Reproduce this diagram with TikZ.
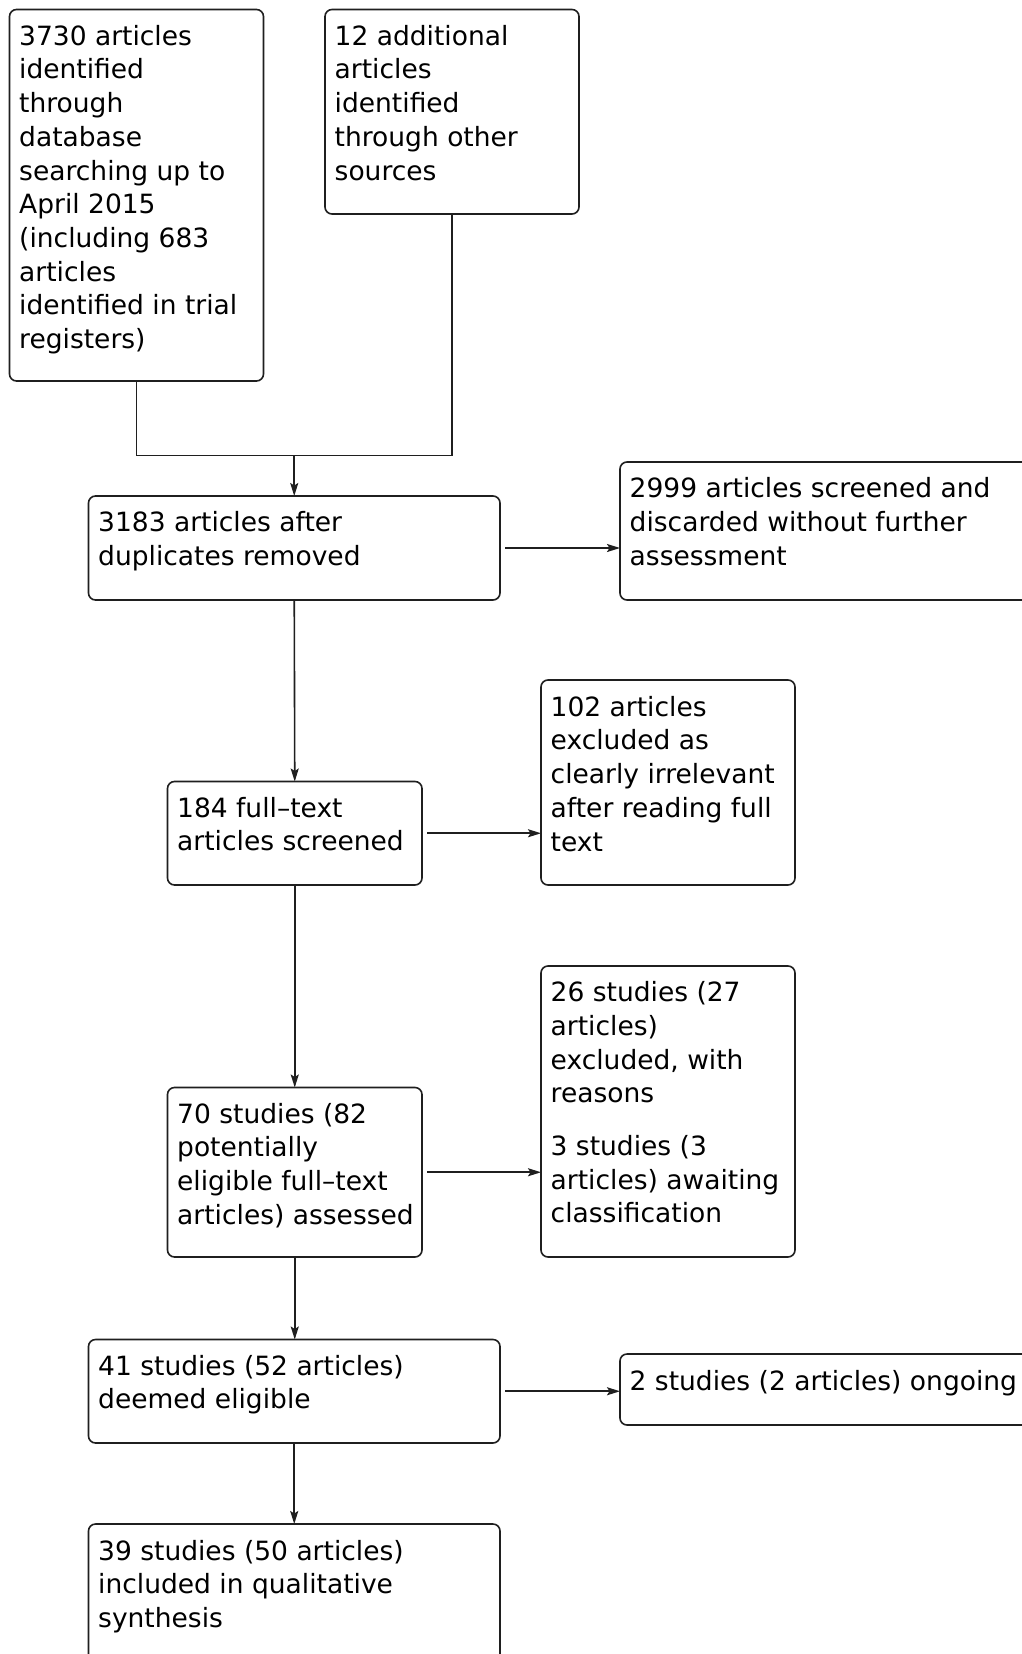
\documentclass[tikz,border=0pt]{standalone}
\usepackage{fontspec}
\setmainfont{DejaVu Sans}
\usetikzlibrary{arrows.meta}
\newcommand\fl{\rule{0pt}{22pt}}
\begin{document}
\begin{tikzpicture}[x=1pt,y=-1pt,
  box/.style={draw=black!88,line width=1.6pt,rounded corners=7pt,inner sep=0pt,outer sep=0pt,anchor=north west},
  txt/.style={anchor=north west,inner sep=0pt,align=left,font=\fontsize{26.5}{33.7}\selectfont},
  arr/.style={draw=black!88,line width=1.6pt,-{Stealth[length=13pt,width=8pt,inset=2.5pt]}},
  ln/.style={draw=black!88,line width=1.6pt}]
\useasboundingbox (0,0) rectangle (1022,1654);
\clip (0,0) rectangle (1022,1654);
\fill[white] (0,0) rectangle (1022,1654);
% boxes
\node[box,minimum width=254pt,minimum height=371.5pt] (A) at (9.5,9.5) {};
\node[box,minimum width=254pt,minimum height=204.5pt] (B) at (325,9.5) {};
\node[box,minimum width=411.5pt,minimum height=104pt] (C) at (88.5,496) {};
\node[box,minimum width=420pt,minimum height=138pt] (D) at (620,462) {};
\node[box,minimum width=254.5pt,minimum height=103.5pt] (E) at (167.5,781.5) {};
\node[box,minimum width=254pt,minimum height=205pt] (F) at (541,680) {};
\node[box,minimum width=254.5pt,minimum height=169.5pt] (G) at (167.5,1087.5) {};
\node[box,minimum width=254pt,minimum height=291pt] (H) at (541,966) {};
\node[box,minimum width=411.5pt,minimum height=103.5pt] (I) at (88.5,1339.5) {};
\node[box,minimum width=420pt,minimum height=71pt] (J) at (620,1354) {};
\node[box,minimum width=411.5pt,minimum height=180pt] (K) at (88.5,1524) {};
% texts (first baseline = y + 22)
\node[txt] (tA) at (19,23) {\fl 3730 articles\\identified\\through\\database\\searching up to\\April 2015\\(including 683\\articles\\identified in trial\\registers)};
\node[txt] (tB) at (334.5,23) {\fl 12 additional\\articles\\identified\\through other\\sources};
\node[txt] (tC) at (98,509.5) {\fl 3183 articles after\\duplicates removed};
\node[txt] (tD) at (629.5,475.5) {\fl 2999 articles screened and\\discarded without further\\assessment};
\node[txt] (tE) at (177,795) {\fl 184 full--text\\articles screened};
\node[txt] (tF) at (550.5,694) {\fl 102 articles\\excluded as\\clearly irrelevant\\after reading full\\text};
\node[txt] (tG) at (177,1101) {\fl 70 studies (82\\potentially\\eligible full--text\\articles) assessed};
\node[txt] (tH) at (550.5,979.5) {\fl 26 studies (27\\articles)\\excluded, with\\reasons\\[19pt]3 studies (3\\articles) awaiting\\classification};
\node[txt] (tI) at (98,1353) {\fl 41 studies (52 articles)\\deemed eligible};
\node[txt] (tJ) at (629.5,1368) {\fl 2 studies (2 articles) ongoing};
\node[txt] (tK) at (98,1538) {\fl 39 studies (50 articles)\\included in qualitative\\synthesis};
% connectors
\coordinate (m) at (294.25,455.6);
\draw[ln] (A.south) |- (m);
\draw[ln] (B.south) |- (m);
\draw[arr] (m) -- (C.north);
\draw[arr,shorten <=5pt] (C.east) -- (C.east -| D.west);
\draw[arr] (C.south) -- (E.north);
\draw[arr,shorten <=5pt] (E.east) -- (E.east -| F.west);
\draw[arr] (E.south) -- (G.north);
\draw[arr,shorten <=5pt] (G.east) -- (G.east -| H.west);
\draw[arr] (G.south) -- (G.south |- I.north);
\draw[arr,shorten <=5pt] (I.east) -- (I.east -| J.west);
\draw[arr] (I.south) -- (K.north);
\end{tikzpicture}
\end{document}
